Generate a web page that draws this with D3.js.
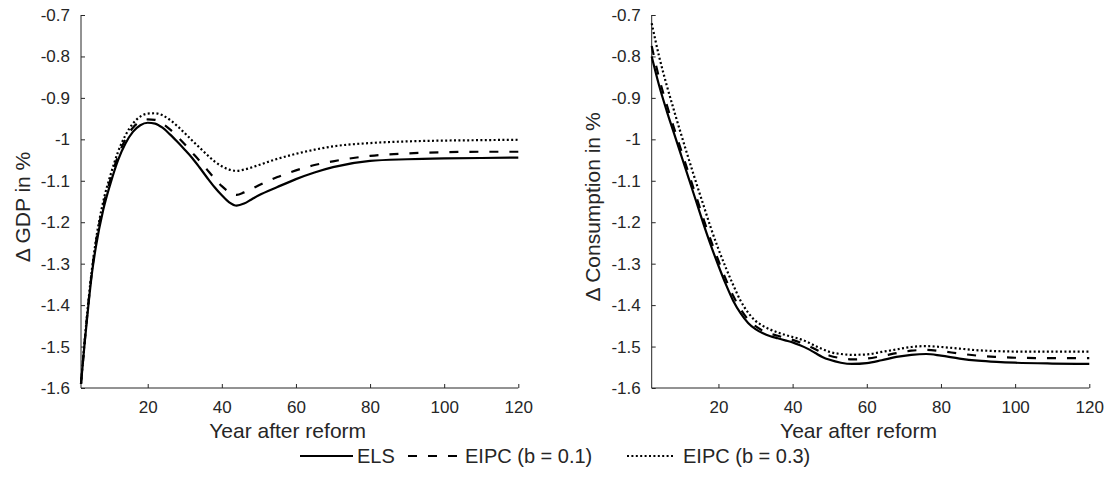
<!DOCTYPE html>
<html>
<head>
<meta charset="utf-8">
<script src="https://cdn.jsdelivr.net/npm/d3@7"></script>
<style>
  html, body { margin: 0; padding: 0; background: #fff; }
  svg text { font-family: "Liberation Sans", Arial, Helvetica, sans-serif; fill: #262626; }
</style>
</head>
<body>
<svg id="chart" width="1106" height="477"></svg>
<script>
// ---- data ----
const years = [2,3,4,5,6,8,10,12,14,16,18,20,22,24,26,28,30,32,34,36,38,40,42,44,46,48,50,55,60,65,70,80,90,100,110,120];
const gdpELS   = [-1.59,-1.49,-1.40,-1.32,-1.26,-1.17,-1.105,-1.05,-1.01,-0.982,-0.966,-0.96,-0.962,-0.972,-0.988,-1.006,-1.025,-1.045,-1.068,-1.092,-1.115,-1.135,-1.152,-1.16,-1.155,-1.145,-1.135,-1.115,-1.096,-1.08,-1.067,-1.052,-1.048,-1.046,-1.045,-1.044];
const gdpEIPC1 = [-1.59,-1.488,-1.395,-1.315,-1.25,-1.16,-1.095,-1.04,-1.0,-0.972,-0.957,-0.952,-0.953,-0.962,-0.976,-0.993,-1.012,-1.032,-1.052,-1.073,-1.094,-1.113,-1.127,-1.134,-1.128,-1.12,-1.111,-1.091,-1.075,-1.062,-1.053,-1.040,-1.034,-1.031,-1.030,-1.030];
const gdpEIPC3 = [-1.59,-1.485,-1.39,-1.31,-1.245,-1.15,-1.085,-1.03,-0.99,-0.962,-0.945,-0.938,-0.937,-0.942,-0.953,-0.968,-0.985,-1.003,-1.02,-1.037,-1.053,-1.065,-1.073,-1.076,-1.073,-1.068,-1.062,-1.047,-1.035,-1.025,-1.017,-1.009,-1.005,-1.003,-1.002,-1.001];

const cYears = [2,4,6,8,10,12,14,16,18,20,22,24,26,28,30,32,34,36,38,40,42,44,46,48,50,53,56,60,64,68,72,76,80,85,90,95,100,110,120];
const conELS   = [-0.80,-0.87,-0.93,-0.985,-1.04,-1.095,-1.15,-1.205,-1.257,-1.305,-1.35,-1.39,-1.42,-1.443,-1.458,-1.468,-1.475,-1.48,-1.485,-1.49,-1.497,-1.505,-1.515,-1.525,-1.532,-1.539,-1.542,-1.54,-1.533,-1.525,-1.52,-1.518,-1.522,-1.529,-1.534,-1.537,-1.539,-1.541,-1.542];
const conEIPC1 = [-0.775,-0.852,-0.915,-0.972,-1.028,-1.083,-1.138,-1.193,-1.245,-1.293,-1.338,-1.378,-1.41,-1.435,-1.451,-1.462,-1.469,-1.474,-1.479,-1.484,-1.49,-1.497,-1.506,-1.515,-1.522,-1.528,-1.531,-1.529,-1.523,-1.516,-1.51,-1.508,-1.511,-1.517,-1.522,-1.525,-1.527,-1.528,-1.528];
const conEIPC3 = [-0.72,-0.80,-0.868,-0.93,-0.99,-1.048,-1.105,-1.16,-1.215,-1.265,-1.31,-1.352,-1.39,-1.418,-1.438,-1.45,-1.459,-1.466,-1.472,-1.477,-1.482,-1.489,-1.498,-1.506,-1.513,-1.518,-1.52,-1.519,-1.513,-1.507,-1.501,-1.499,-1.501,-1.505,-1.509,-1.511,-1.512,-1.512,-1.512];

const xTicks = [20,40,60,80,100,120];
const yTicks = [-0.7,-0.8,-0.9,-1,-1.1,-1.2,-1.3,-1.4,-1.5,-1.6];
const yTickLabels = ["-0.7","-0.8","-0.9","-1","-1.1","-1.2","-1.3","-1.4","-1.5","-1.6"];
const seriesNames = ["ELS","EIPC (b = 0.1)","EIPC (b = 0.3)"];
const seriesDash = ["none","9,11","2,2.4"];

// ---- drawing ----
const svg = d3.select("#chart");
const axisColor = "#262626";

function panel(left, right, xs, series, ylabel, ylabelX) {
  const x = d3.scaleLinear().domain([2,120]).range([left, right]);
  const y = d3.scaleLinear().domain([-1.6,-0.7]).range([388, 15]);
  const g = svg.append("g");

  // x axis (ticks inward)
  const xa = g.append("g").attr("transform","translate(0,388)")
    .call(d3.axisBottom(x).tickValues(xTicks).tickSize(-4).tickPadding(10).tickFormat(d => String(d)));
  xa.select(".domain").attr("stroke", axisColor).attr("d", `M${left},0H${right}`);
  xa.selectAll(".tick line").attr("stroke", axisColor);
  xa.selectAll("text").attr("font-size", 17).attr("fill", axisColor).attr("dy","0.9em")
    .style("font-family","'Liberation Sans', Arial, sans-serif");

  // y axis
  const ya = g.append("g").attr("transform",`translate(${left},0)`)
    .call(d3.axisLeft(y).tickValues(yTicks).tickSize(-4).tickPadding(11)
      .tickFormat((d, i) => yTickLabels[i]));
  ya.select(".domain").attr("stroke", axisColor).attr("d", "M0,15V388");
  ya.selectAll(".tick line").attr("stroke", axisColor);
  ya.selectAll("text").attr("font-size", 17).attr("fill", axisColor)
    .style("font-family","'Liberation Sans', Arial, sans-serif");

  // lines
  const line = d3.line().x((d,i) => x(xs[i])).y(d => y(d)).curve(d3.curveMonotoneX);
  series.forEach((s, k) => {
    g.append("path").datum(s).attr("d", line)
      .attr("fill","none").attr("stroke","#000").attr("stroke-width", 2.2)
      .attr("stroke-dasharray", seriesDash[k]);
  });

  // labels
  g.append("text").attr("x", (left+right)/2 - 12).attr("y", 438)
    .attr("text-anchor","middle").attr("font-size", 21).text("Year after reform");
  g.append("text").attr("transform", `translate(${ylabelX},207) rotate(-90)`)
    .attr("text-anchor","middle").attr("font-size", 21).text(ylabel);
}

panel(81, 518.3, years, [gdpELS, gdpEIPC1, gdpEIPC3], "\u0394 GDP in %", 30);
panel(651.7, 1089.3, cYears, [conELS, conEIPC1, conEIPC3], "\u0394 Consumption in %", 600);

// legend
const legItems = [
  {x1:300, x2:353, tx:357},
  {x1:408, x2:461, tx:465},
  {x1:627, x2:674, tx:683}
];
const leg = svg.append("g");
legItems.forEach((it, k) => {
  leg.append("line").attr("x1", it.x1).attr("x2", it.x2).attr("y1", 456).attr("y2", 456)
    .attr("stroke","#000").attr("stroke-width", 2.2).attr("stroke-dasharray", seriesDash[k]);
  leg.append("text").attr("x", it.tx).attr("y", 463).attr("font-size", 20).attr("fill","#000").text(seriesNames[k]);
});
</script>
</body>
</html>
